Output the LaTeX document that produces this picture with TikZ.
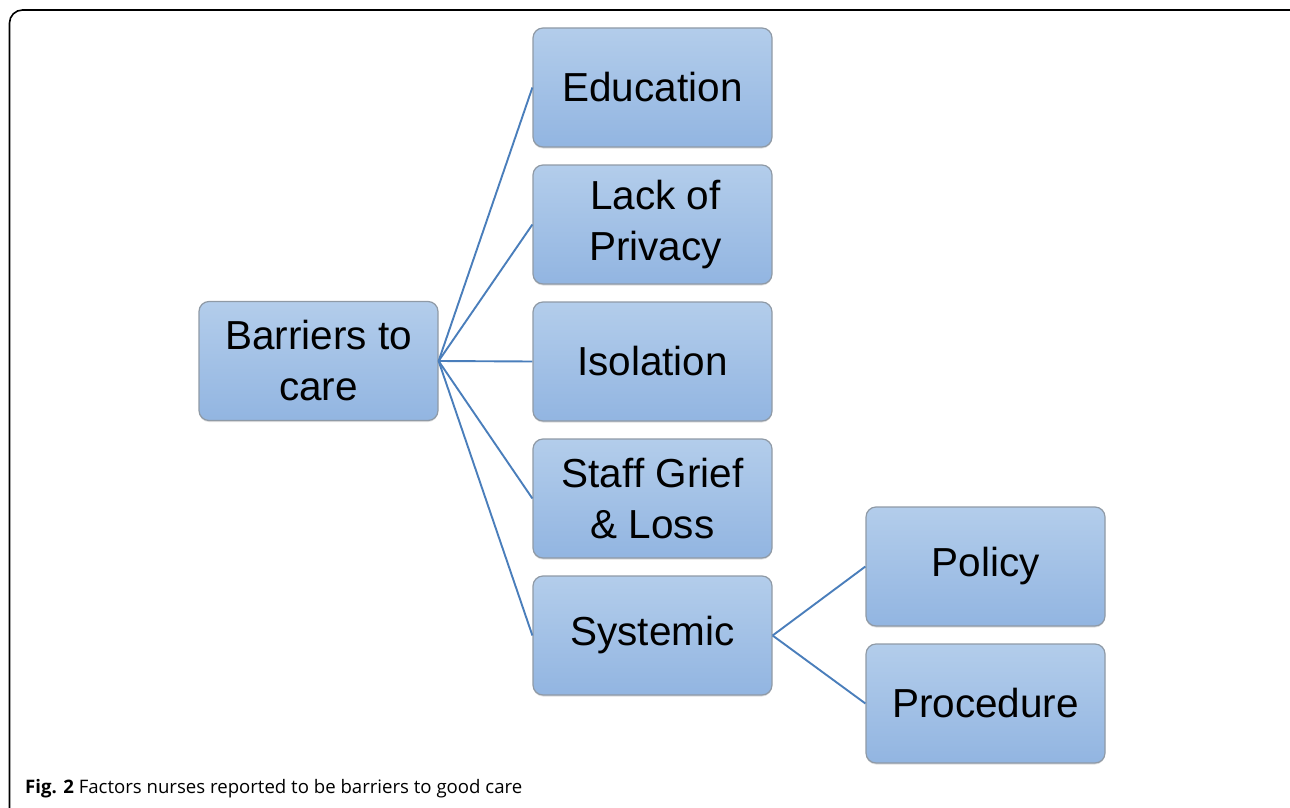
\documentclass[tikz,border=0pt]{standalone}
\usepackage{fontspec}
\setmainfont{Liberation Sans}
\newfontfamily\capfont{Open Sans}
\definecolor{boxtop}{HTML}{B3CDEB}
\definecolor{boxbot}{HTML}{92B5E1}
\definecolor{boxline}{HTML}{8F9AA6}
\definecolor{linkcol}{HTML}{4A7EBB}
\usetikzlibrary{shadows}
\tikzset{
  box/.style={rectangle, rounded corners=10pt, draw=boxline, line width=1.2pt,
    top color=boxtop, bottom color=boxbot, minimum width=239pt, minimum height=119pt,
    inner sep=0pt, align=center, font=\fontsize{40.5}{51}\selectfont,
    drop shadow={shadow xshift=0pt, shadow yshift=-1.5pt, opacity=0.25}},
  link/.style={draw=linkcol, line width=1.9pt}
}
\begin{document}
\begin{tikzpicture}[x=1pt,y=-1pt]
\useasboundingbox (0,0) rectangle (1290,808);
\begin{scope}
\clip (0,0) rectangle (1290,808);
\draw[line width=1.6pt, rounded corners=13pt] (9.5,10) rectangle (1310,830);
\end{scope}
\node[box] (root) at (318.5,361) {Barriers to\\care};
\node[box] (edu) at (652.5,87.5) {Education};
\node[box] (priv) at (652.5,224.5) {\hspace*{6pt}Lack of\\\hspace*{6pt}Privacy};
\node[box] (iso) at (652.5,361.5) {Isolation};
\node[box] (grief) at (652.5,498.5) {Staff Grief\\\& Loss};
\node[box] (sys) at (652.5,635.5) {Systemic};
\node[box] (pol) at (985.5,566.5) {Policy};
\node[box] (proc) at (985.5,703.5) {Procedure};
\draw[link] (root.east) -- (edu.west);
\draw[link] (root.east) -- (priv.west);
\draw[link] (root.east) -- (iso.west);
\draw[link] (root.east) -- (grief.west);
\draw[link] (root.east) -- (sys.west);
\draw[link] (sys.east) -- (pol.west);
\draw[link] (sys.east) -- (proc.west);
\node[anchor=base west, inner sep=0pt, font=\capfont\fontsize{18.6}{22}\selectfont] (cap) at (25,793)
  {\textbf{Fig. 2} Factors nurses reported to be barriers to good care};
\end{tikzpicture}
\end{document}
